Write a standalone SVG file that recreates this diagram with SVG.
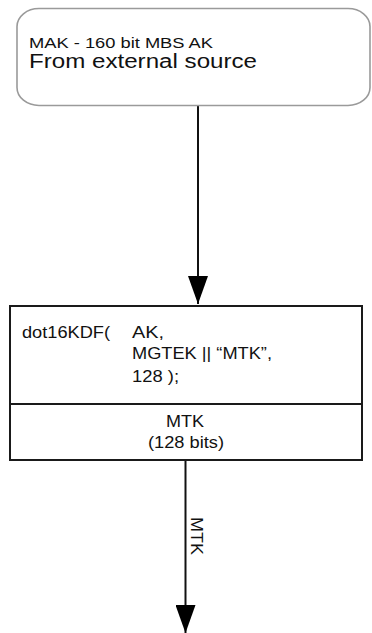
<svg xmlns="http://www.w3.org/2000/svg" width="372" height="633" viewBox="0 0 372 633">
  <style>
    text { font-family: "Liberation Sans", Arial, sans-serif; fill: #111; }
    .src { fill: #fff; stroke: #9a9a9a; stroke-width: 1.6; }
    .box { fill: #fff; stroke: #1a1a1a; stroke-width: 2; }
    .conn { stroke: #111; stroke-width: 2; fill: none; }
  </style>
  <defs>
    <marker id="ah" viewBox="0 0 28 20" refX="28" refY="10" markerWidth="28" markerHeight="20" markerUnits="userSpaceOnUse" orient="auto">
      <path d="M0,0 L28,10 L0,20 z" fill="#000"/>
    </marker>
  </defs>

  <g id="connectors">
    <line class="conn" x1="198" y1="106" x2="198" y2="304" marker-end="url(#ah)"/>
    <line class="conn" x1="185.5" y1="460" x2="185.5" y2="633" marker-end="url(#ah)"/>
    <text transform="translate(191,517) rotate(90)" font-size="16" textLength="38" lengthAdjust="spacingAndGlyphs">MTK</text>
  </g>

  <g id="source">
    <rect class="src" x="17" y="8.5" width="353" height="97" rx="22" ry="18"/>
    <text x="29" y="48" font-size="14.5" textLength="184" lengthAdjust="spacingAndGlyphs">MAK - 160 bit MBS AK</text>
    <text x="29" y="68" font-size="19.5" textLength="228" lengthAdjust="spacingAndGlyphs">From external source</text>
  </g>

  <g id="kdf">
    <rect class="box" x="10" y="306" width="352" height="154"/>
    <line class="box" x1="10" y1="404" x2="362" y2="404"/>
    <text x="22" y="338" font-size="16" textLength="88" lengthAdjust="spacingAndGlyphs">dot16KDF(</text>
    <text x="132" y="338" font-size="16" textLength="32" lengthAdjust="spacingAndGlyphs">AK,</text>
    <text x="132" y="359" font-size="16" textLength="140" lengthAdjust="spacingAndGlyphs">MGTEK || “MTK”,</text>
    <text x="132" y="382" font-size="16" textLength="47" lengthAdjust="spacingAndGlyphs">128 );</text>
    <text x="166" y="427" font-size="16" textLength="38" lengthAdjust="spacingAndGlyphs">MTK</text>
    <text x="148" y="448" font-size="16" textLength="76" lengthAdjust="spacingAndGlyphs">(128 bits)</text>
  </g>
</svg>
